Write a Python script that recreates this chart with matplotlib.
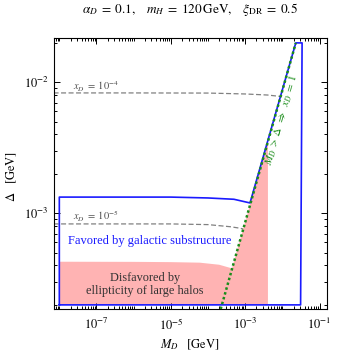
import numpy as np
import matplotlib
matplotlib.use('Agg')
import matplotlib.pyplot as plt
from matplotlib.ticker import LogLocator, FixedLocator, NullFormatter

plt.rcParams['font.family'] = ['Liberation Serif', 'DejaVu Serif']
plt.rcParams['mathtext.fontset'] = 'stix'

# blue region (favored by galactic substructure)
blue_m = [1e-8, 1e-8, 1e-5, 1e-4, 5e-4, 1.35e-3, 0.023, 0.034, 0.031, 1e-8]
blue_d = [2e-4, 1.33e-3, 1.33e-3, 1.31e-3, 1.28e-3, 1.2e-3, 0.02, 0.02, 2e-4, 2e-4]

# pink region (disfavored by ellipticity)
pink_m = [1e-8, 1e-8, 1e-6, 1e-5, 6e-5, 2e-4, 4.4e-4, 4.1e-3, 4.1e-3]
pink_d = [2e-4, 4.27e-4, 4.26e-4, 4.24e-4, 4.2e-4, 4.05e-4, 3.8e-4, 3.52e-3, 2e-4]

# M_D > Delta line
green_m = [2.2e-4, 0.023]
green_d = [1.86e-4, 0.02]

# x_D contours
xd4_m = [7e-9, 1e-6, 1e-4, 1e-3, 4e-3, 9e-3]
xd4_d = [8.3e-3, 8.3e-3, 8.28e-3, 8.15e-3, 8.0e-3, 7.8e-3]
xd5_m = [7e-9, 1e-6, 1e-5, 1e-4, 4e-4, 7.2e-4, 8.8e-4]
xd5_d = [8.3e-4, 8.3e-4, 8.3e-4, 8.2e-4, 7.9e-4, 7.7e-4, 7.6e-4]

xtick_vals = [1e-7, 1e-5, 1e-3, 1e-1]
ytick_vals = [1e-3, 1e-2]

fig = plt.figure(figsize=(3.37, 3.56), dpi=100)
ax = fig.add_axes([0.1588, 0.132, 0.8112, 0.762])

ax.fill(pink_m, pink_d, color='#ffb3b3', lw=0, zorder=1)
ax.plot(xd4_m, xd4_d, color='0.5', ls=(0, (4, 2)), lw=0.9, zorder=2)
ax.plot(xd5_m, xd5_d, color='0.5', ls=(0, (4, 2)), lw=0.9, zorder=2)
ax.plot(blue_m, blue_d, color='#1a1aff', lw=1.2, zorder=3)
ax.plot(green_m, green_d, color='#1a8c1a', ls=(0, (1, 1)), lw=1.8, zorder=4)

ax.set_xscale('log')
ax.set_yscale('log')
ax.set_xlim(6.98e-9, 0.158)
ax.set_ylim(1.86e-4, 0.0219)

ax.xaxis.set_major_locator(FixedLocator(xtick_vals))
ax.yaxis.set_major_locator(FixedLocator(ytick_vals))
ax.xaxis.set_minor_locator(LogLocator(base=10, subs=np.arange(1, 10), numticks=30))
ax.yaxis.set_minor_locator(LogLocator(base=10, subs=np.arange(2, 10), numticks=30))
ax.xaxis.set_minor_formatter(NullFormatter())
ax.yaxis.set_minor_formatter(NullFormatter())
ax.set_xticklabels([r'$10^{-7}$', r'$10^{-5}$', r'$10^{-3}$', r'$10^{-1}$'])
ax.set_yticklabels([r'$10^{-3}$', r'$10^{-2}$'])
ax.tick_params(which='both', direction='in', top=True, right=True, labelsize=9, width=0.7)
ax.tick_params(which='major', length=4)
ax.tick_params(which='minor', length=2)
ax.tick_params(axis='x', pad=6)
for s in ax.spines.values():
    s.set_linewidth(0.8)

ax.text(2.3e-8, 9.2e-3, r'$x_D\;=\;10^{-4}$', fontsize=7.5, color='0.3', va='center', ha='left')
ax.text(2.3e-8, 9.4e-4, r'$x_D\;=\;10^{-5}$', fontsize=7.5, color='0.3', va='center', ha='left')
ax.text(2.75e-6, 6.2e-4, 'Favored by galactic substructure', fontsize=9, color='#1a1aff',
        ha='center', va='center')
ax.text(2.0e-6, 2.86e-4, 'Disfavored by\nellipticity of large halos', fontsize=8.8, color='0.2',
        ha='center', va='center', linespacing=1.2)
ax.text(9.6e-3, 5.2e-3, r'$M_D\;>\;\Delta\;\;\Rightarrow\;\;x_D\;=\;1$', fontsize=8, color='#1a8c1a',
        ha='center', va='center', rotation=74)

fig.text(0.564, 0.972, r'$\alpha_D\;=\;0.1,\quad m_H\;=\;120\,\mathrm{GeV},\quad \xi_{\mathrm{DR}}\;=\;0.5$',
         fontsize=9.5, ha='center', va='center')
fig.text(0.564, 1 - 345 / 356, r'$M_D\quad[\mathrm{GeV}]$', fontsize=9, ha='center', va='center')
fig.text(12 / 337, 1 - 177 / 356, r'$\Delta\quad[\mathrm{GeV}]$', fontsize=9, ha='center', va='center',
         rotation=90)

fig.savefig('out.png', dpi=100)
